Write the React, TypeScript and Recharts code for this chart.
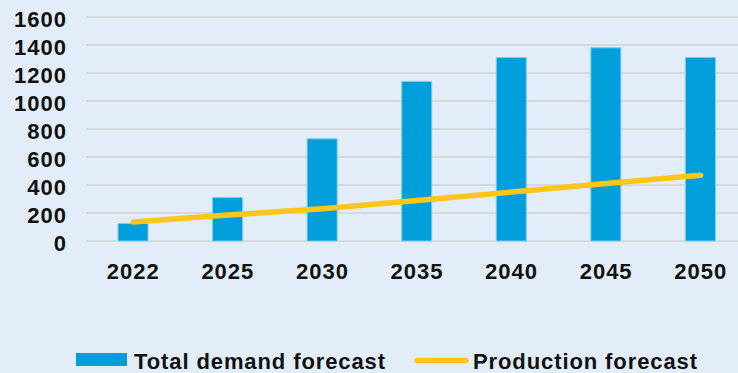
import React from 'react';
import { ComposedChart, Bar, Line, XAxis, YAxis, CartesianGrid, Legend } from 'recharts';

const years = ['2022', '2025', '2030', '2035', '2040', '2045', '2050'];
const demandForecast = [125, 310, 730, 1140, 1310, 1380, 1310];
const productionForecast = [135, 185, 230, 290, 350, 410, 470];
const yTicks = [0, 200, 400, 600, 800, 1000, 1200, 1400, 1600];

const data = years.map((year, i) => ({
  year,
  demand: demandForecast[i],
  production: productionForecast[i],
}));

const FONT = '"Liberation Sans", Arial, sans-serif';
const BLUE = '#009FDB';
const GOLD = '#FFC61A';

const XTick = (props: any) => {
  const { x, y, payload } = props;
  return (
    <text x={x} y={y + 38} textAnchor="middle" fontFamily={FONT} fontWeight="bold"
      fontSize={22} letterSpacing={1} fill="#111">
      {payload.value}
    </text>
  );
};

const YTick = (props: any) => {
  const { x, y, payload } = props;
  return (
    <text x={x - 19} y={y + 9.8} textAnchor="end" fontFamily={FONT} fontWeight="bold"
      fontSize={22} letterSpacing={1} fill="#111">
      {payload.value}
    </text>
  );
};

// legend is drawn by hand so the swatches sit where the original had them
const renderLegend = () => (
  <svg width={748} height={30} style={{ display: 'block' }}>
    <rect x={76} y={10} width={51} height={13} fill={BLUE} />
    <text x={134} y={25.5} fontFamily={FONT} fontWeight="bold" fontSize={22} letterSpacing={0.9} fill="#111">
      Total demand forecast
    </text>
    <line x1={417} y1={17.5} x2={466} y2={17.5} stroke={GOLD} strokeWidth={5.5} strokeLinecap="round" />
    <text x={473} y={25.5} fontFamily={FONT} fontWeight="bold" fontSize={22} letterSpacing={0.9} fill="#111">
      Production forecast
    </text>
  </svg>
);

export default function App() {
  return (
    <div style={{ position: 'absolute', left: 0, top: 0, width: 738, height: 373, overflow: 'hidden', background: '#E2EDF7' }}>
      <ComposedChart width={748} height={373} data={data} margin={{ top: 17, right: 0, bottom: 0, left: 0 }}>
        <CartesianGrid vertical={false} stroke="#D5D9DE" strokeWidth={2} />
        <XAxis dataKey="year" height={102} axisLine={false} tickLine={false} tickSize={0} tickMargin={0}
          tick={<XTick />} interval={0} />
        <YAxis width={86} domain={[0, 1600]} ticks={yTicks} axisLine={false} tickLine={false}
          tickSize={0} tickMargin={0} tick={<YTick />} interval={0} />
        <Legend verticalAlign="bottom" wrapperStyle={{ left: 0, width: 748 }} content={renderLegend} />
        <Bar dataKey="demand" name="Total demand forecast" fill={BLUE} stroke="#7FCBEA" strokeWidth={1}
          barSize={30} isAnimationActive={false} />
        <Line dataKey="production" name="Production forecast" stroke={GOLD} strokeWidth={5.5}
          strokeLinecap="round" dot={false} activeDot={false} isAnimationActive={false} />
      </ComposedChart>
    </div>
  );
}
